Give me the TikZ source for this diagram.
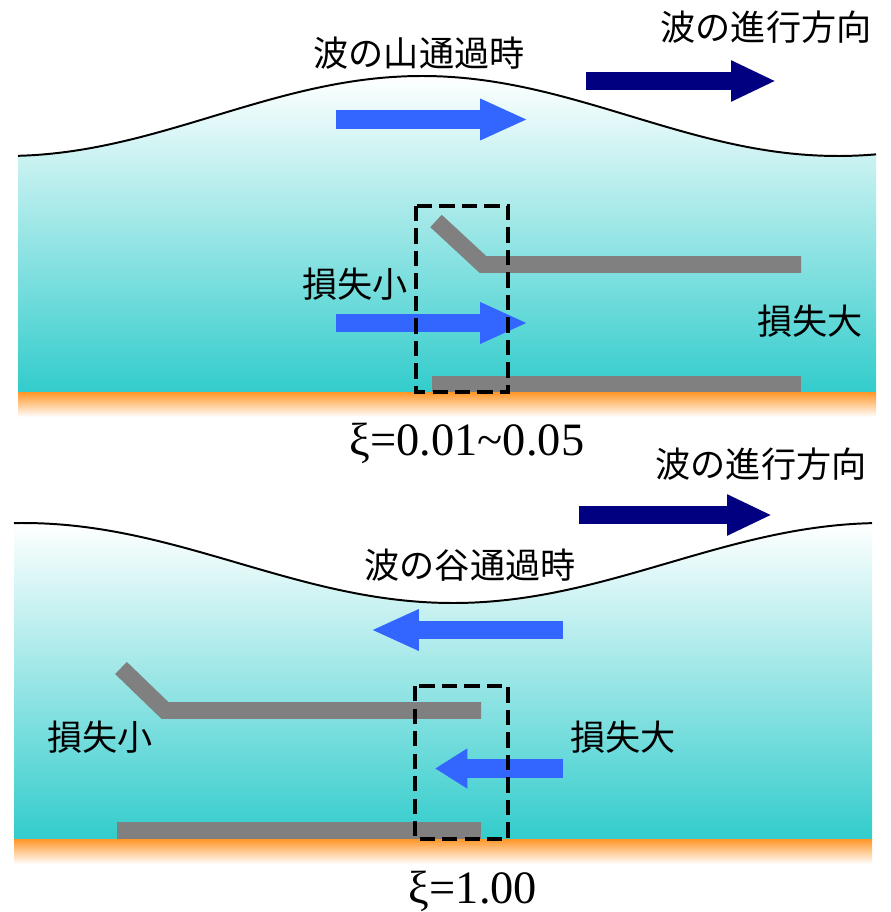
\documentclass[tikz,border=0pt]{standalone}
\usepackage{fontspec}
\setmainfont{Liberation Serif}
\newfontfamily\jp{Noto Sans CJK JP}
\usetikzlibrary{arrows.meta}

\definecolor{water}{RGB}{51,204,204}
\definecolor{sand}{RGB}{255,150,40}
\definecolor{flow}{RGB}{51,102,255}
\definecolor{wavedir}{RGB}{0,0,128}
\definecolor{plategray}{RGB}{128,128,128}

\tikzset{
	jtext/.style={font=\jp\fontsize{25pt}{30pt}\selectfont},
	xitext/.style={font=\fontsize{33pt}{38pt}\selectfont, anchor=base},
	surface/.style={black, line width=1.4pt},
	platebar/.style={plategray, line width=12pt, line join=miter},
	zone/.style={black, line width=2.8pt, dash pattern=on 11pt off 5pt},
	flowarrow/.style={flow, line width=13.5pt, -{Triangle[length=34pt, width=27pt]}},
	dirarrow/.style={wavedir, line width=13.5pt, -{Triangle[length=32pt, width=27pt]}}
}

\begin{document}
\begin{tikzpicture}[x=0.025cm, y=-0.025cm]
	\useasboundingbox (0,0) rectangle (890,912);

	% --- crest passing ---
	\shade[top color=white, bottom color=water] plot[domain=18:876, samples=120] (\x, {116-40*cos((\x-422)*0.43269)}) -- (876,392) -- (18,392) -- cycle;
	\draw[surface] plot[domain=18:876, samples=120] (\x, {116-40*cos((\x-422)*0.43269)});
	\shade[top color=sand, bottom color=white] (18,392) rectangle (876,417);

	\draw[platebar] (436,221) -- (483,264.5) -- (801,264.5);
	\draw[platebar] (432,384) -- (801,384);

	\coordinate (dirA s) at (586,81);
	\coordinate (dirA e) at (776,81);
	\draw[dirarrow] (dirA s) -- (dirA e);
	\coordinate (crest s) at (336,119.5);
	\coordinate (crest e) at (528,119.5);
	\draw[flowarrow] (crest s) -- (crest e);
	\coordinate (gapA s) at (336,323);
	\coordinate (gapA e) at (528,323);
	\draw[flowarrow] (gapA s) -- (gapA e);

	\draw[zone] (416,206) rectangle (508,392);

	\node[jtext] (dirA label) at (766,27) {波の進行方向};
	\node[jtext] (crest label) at (419,53) {波の山通過時};
	\node[jtext] (lossA small) at (355,284) {損失小};
	\node[jtext] (lossA large) at (810,321) {損失大};
	\node[xitext] (xiA) at (467,455) {ξ=0.01\textasciitilde 0.05};

	% --- trough passing ---
	\shade[top color=white, bottom color=water] plot[domain=14:872, samples=120] (\x, {563+40*cos((\x-453)*0.4186)}) -- (872,839) -- (14,839) -- cycle;
	\draw[surface] plot[domain=14:872, samples=120] (\x, {563+40*cos((\x-453)*0.4186)});
	\shade[top color=sand, bottom color=white] (14,839) rectangle (872,864);

	\draw[platebar] (121,668) -- (165,710.5) -- (481,710.5);
	\draw[platebar] (117,830.5) -- (481,830.5);

	\coordinate (dirB s) at (579,515);
	\coordinate (dirB e) at (772,515);
	\draw[dirarrow] (dirB s) -- (dirB e);
	\coordinate (trough s) at (563,630);
	\coordinate (trough e) at (371,630);
	\draw[flowarrow] (trough s) -- (trough e);
	\coordinate (gapB s) at (563,768.5);
	\coordinate (gapB e) at (435,768.5);
	\draw[flowarrow, -{Triangle[length=23pt, width=27pt]}] (gapB s) -- (gapB e);

	\draw[zone] (415,686) rectangle (508,839);

	\node[jtext] (dirB label) at (761,464) {波の進行方向};
	\node[jtext] (trough label) at (470,565) {波の谷通過時};
	\node[jtext] (lossB small) at (100,737) {損失小};
	\node[jtext] (lossB large) at (623,737) {損失大};
	\node[xitext] (xiB) at (473,903) {ξ=1.00};
\end{tikzpicture}
\end{document}
